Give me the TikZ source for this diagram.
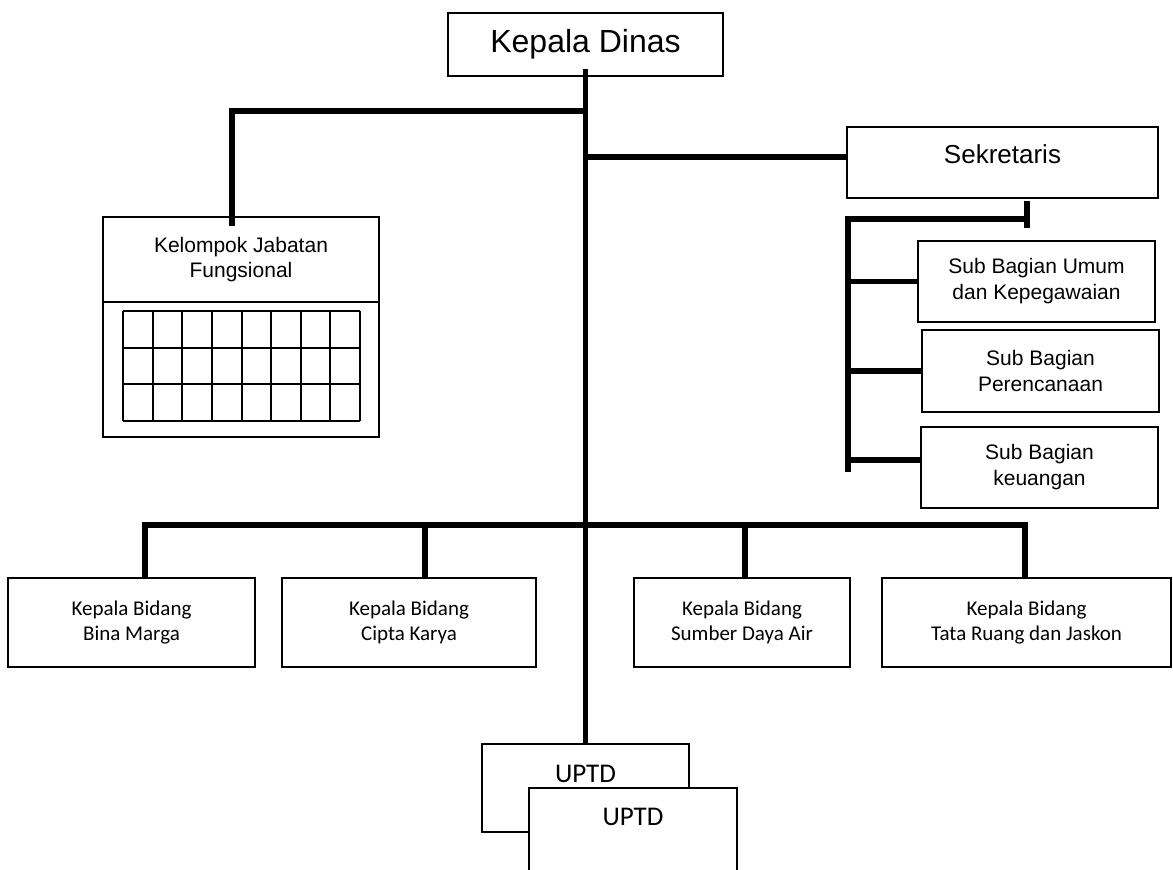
\documentclass[tikz,border=0pt]{standalone}
\usepackage{fontspec}
\setmainfont{Liberation Sans}
\newfontfamily\calibri{Carlito}

\begin{document}
\begin{tikzpicture}[x=1pt,y=-1pt,
    box/.style={draw,line width=1.3pt,inner sep=0pt,align=center,fill=white},
    conn/.style={line width=5.5pt},
    cell/.style={line width=2pt},
    bidang/.style={box,minimum height=89pt,font=\calibri\fontsize{21}{25}\selectfont},
    subbag/.style={box,minimum width=237pt,font=\fontsize{21}{26}\selectfont}]
      \useasboundingbox (0,0) rectangle (1173,870);
      \clip (0,0) rectangle (1173,870);

      \node[box,minimum width=275pt,minimum height=63pt,font=\fontsize{32}{38}\selectfont]
        (kadis) at (585.5,44.5) {Kepala Dinas};
      \node[box,minimum width=311pt,minimum height=71pt,text height=19pt,text depth=17pt,
        font=\fontsize{26}{31}\selectfont] (sekr) at (1002.5,162.5) {Sekretaris};

      \node[box,minimum width=276pt,minimum height=85pt,font=\fontsize{21}{25}\selectfont]
        (kjf) at (241,259.5) {Kelompok Jabatan\\Fungsional};
      \node[box,minimum width=276pt,minimum height=135pt] (kjfgrid) at (241,369.5) {};
      \foreach \c in {0,...,8}
        \draw[cell] (123+\c*29.625,311) -- (123+\c*29.625,421);
      \foreach \r in {0,...,3}
        \draw[cell] (123,311+\r*36.667) -- (360,311+\r*36.667);

      \node[subbag,minimum height=81pt] (sub1) at (1036.5,281.5) {Sub Bagian Umum\\dan Kepegawaian};
      \node[subbag,minimum height=82pt] (sub2) at (1040.5,371) {Sub Bagian\\Perencanaan};
      \node[subbag,minimum height=81pt] (sub3) at (1039.5,467.5) {Sub Bagian\\keuangan};

      \node[bidang,minimum width=247pt] (kb1) at (131.5,622.5) {Kepala Bidang\\Bina Marga};
      \node[bidang,minimum width=254pt] (kb2) at (409,622.5) {Kepala Bidang\\Cipta Karya};
      \node[bidang,minimum width=216pt] (kb3) at (742,622.5) {Kepala Bidang\\Sumber Daya Air};
      \node[bidang,minimum width=289pt] (kb4) at (1026.5,622.5) {Kepala Bidang\\Tata Ruang dan Jaskon};

      \node[box,minimum width=207pt,minimum height=88pt,text height=18pt,text depth=29pt,
        font=\calibri\fontsize{27}{32}\selectfont] (uptda) at (585.5,788) {UPTD};
      \node[box,minimum width=208pt,minimum height=112pt,text height=18pt,text depth=55pt,
        font=\calibri\fontsize{27}{32}\selectfont] (uptdb) at (633,844) {UPTD};

      \coordinate (jl) at (585.5,111);
      \coordinate (js) at (585.5,157);
      \coordinate (jb) at (585.5,525);
      \coordinate (st) at (1027,219);
      \coordinate (sp) at (848,219);
      \coordinate (spe) at (848,472);
      \coordinate (b1) at ([xshift=13.5pt]kb1.north);
      \coordinate (b2) at ([xshift=16pt]kb2.north);
      \coordinate (b3) at ([xshift=3pt]kb3.north);
      \coordinate (b4) at ([xshift=-1.5pt]kb4.north);
      \coordinate (s3) at ([yshift=7.5pt]sub3.west);

      \draw[conn] ([yshift=8pt]kadis.south) -- (uptda.north);
      \draw[conn] (jl) -| ([xshift=-9pt,yshift=-10pt]kjf.north);
      \draw[conn] (js) -- (js -| sekr.west);
      \draw[conn] ([xshift=24.5pt,yshift=-2pt]sekr.south) -- ++(0,27);
      \draw[conn] (st) -- (sp) -- (spe);
      \draw[conn] (sp |- sub1.west) -- (sub1.west);
      \draw[conn] (sp |- sub2.west) -- (sub2.west);
      \draw[conn] (sp |- s3) -- (s3);
      \draw[conn] (b1) |- (jb) -| (b4);
      \draw[conn] (b2) -- (b2 |- jb);
      \draw[conn] (b3) -- (b3 |- jb);
    \end{tikzpicture}
\end{document}
